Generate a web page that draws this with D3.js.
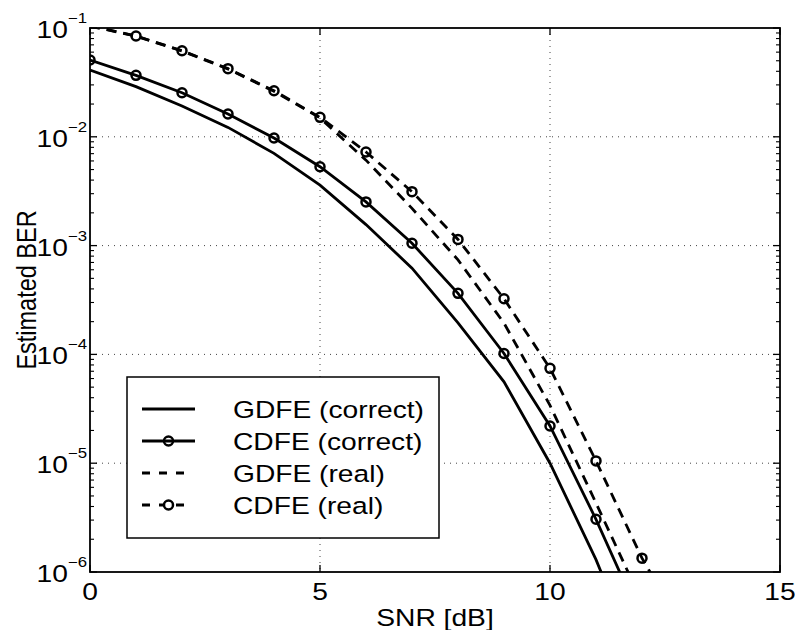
<!DOCTYPE html>
<html>
<head>
<meta charset="utf-8">
<script src="https://d3js.org/d3.v7.min.js"></script>
<style>
  body { margin: 0; background: #fff; }
  text { font-family: "Liberation Sans", Arial, sans-serif; fill: #000; }
</style>
</head>
<body>
<div id="chart"></div>
<script>
/**
BER vs SNR curves, log scale, matlab look.
*/

const width = 795;
const height = 630;

// data
var snr = [0, 1, 2, 3, 4, 5, 6, 7, 8, 9, 10, 11, 12, 13];
var gdfeCorrect = [0.0411, 0.0289, 0.0192, 0.0122, 0.00705, 0.0036, 0.00156, 0.00062, 0.000195, 5.6e-5, 1.0e-5, 1.3e-6, 1.2e-7];
var cdfeCorrect = [0.0508, 0.0367, 0.0254, 0.0162, 0.00975, 0.00531, 0.00252, 0.00105, 0.000364, 0.000102, 2.2e-5, 3.05e-6, 3.5e-7];
var gdfeReal = [0.104, 0.0842, 0.0615, 0.042, 0.0262, 0.0149, 0.0061, 0.0022, 0.00074, 0.000194, 3.4e-5, 4.3e-6, 5.3e-7];
var cdfeReal = [0.105, 0.0844, 0.0618, 0.0423, 0.0265, 0.0151, 0.00725, 0.00313, 0.00114, 0.000325, 7.45e-5, 1.05e-5, 1.34e-6, 2.5e-7];

var xTicks = [0, 5, 10, 15];
var yDecades = [-6, -5, -4, -3, -2, -1];
var legendNames = ['GDFE (correct)', 'CDFE (correct)', 'GDFE (real)', 'CDFE (real)'];

// plot box (note: "top" is taken by window.top)
var pLeft = 90, pRight = 780, pTop = 28, pBottom = 572;
var fs = 23.5;   // font size
var sx = 1.2;    // text looks stretched sideways in the original

var x = d3.scaleLinear().domain([0, 15]).range([pLeft, pRight]);
var y = d3.scaleLog().domain([1e-6, 1e-1]).range([pBottom, pTop]);

var svg = d3.select('#chart')
  .append('svg')
  .attr('width', width)
  .attr('height', height);

svg.append('defs').append('clipPath')
  .attr('id', 'plotclip')
  .append('rect')
  .attr('x', pLeft).attr('y', pTop)
  .attr('width', pRight - pLeft).attr('height', pBottom - pTop);

// white plot background
svg.append('rect')
  .attr('x', pLeft).attr('y', pTop)
  .attr('width', pRight - pLeft).attr('height', pBottom - pTop)
  .style('fill', '#fff');

//grid
var grid = svg.append('g');
xTicks.slice(1, -1).forEach(function(t) {
  grid.append('line')
    .attr('x1', x(t)).attr('x2', x(t))
    .attr('y1', pTop).attr('y2', pBottom)
    .style('stroke', '#444').style('stroke-width', 1)
    .style('stroke-dasharray', '1,5');
});
yDecades.slice(1, -1).forEach(function(d) {
  grid.append('line')
    .attr('x1', pLeft).attr('x2', pRight)
    .attr('y1', y(Math.pow(10, d))).attr('y2', y(Math.pow(10, d)))
    .style('stroke', '#444').style('stroke-width', 1)
    .style('stroke-dasharray', '1,5');
});

// the curves
var series = [
  { name: legendNames[0], values: gdfeCorrect, dash: null, marker: false },
  { name: legendNames[1], values: cdfeCorrect, dash: null, marker: true },
  { name: legendNames[2], values: gdfeReal, dash: '10,7', marker: false },
  { name: legendNames[3], values: cdfeReal, dash: '10,7', marker: true }
];

var line = d3.line()
  .x(function(d) { return x(d[0]); })
  .y(function(d) { return y(d[1]); });

var plot = svg.append('g').attr('clip-path', 'url(#plotclip)');

series.forEach(function(s) {
  var pts = s.values.map(function(v, i) { return [snr[i], v]; });
  plot.append('path')
    .datum(pts)
    .attr('d', line)
    .style('fill', 'none')
    .style('stroke', '#000')
    .style('stroke-width', 2.8)
    .style('stroke-dasharray', s.dash);
  if (s.marker) {
    // matlab drops markers outside the axes
    plot.selectAll(null)
      .data(pts.filter(function(p) { return p[1] >= 1e-6 && p[1] <= 1e-1; }))
      .enter().append('circle')
      .attr('cx', function(d) { return x(d[0]); })
      .attr('cy', function(d) { return y(d[1]); })
      .attr('r', 4.5)
      .style('fill', 'none')
      .style('stroke', '#000')
      .style('stroke-width', 2.5);
  }
});

// frame and ticks
var frame = svg.append('g');
frame.append('rect')
  .attr('x', pLeft).attr('y', pTop)
  .attr('width', pRight - pLeft).attr('height', pBottom - pTop)
  .style('fill', 'none').style('stroke', '#000').style('stroke-width', 1.8);

xTicks.forEach(function(t) {
  frame.append('line')
    .attr('x1', x(t)).attr('x2', x(t)).attr('y1', pBottom).attr('y2', pBottom - 7)
    .style('stroke', '#000').style('stroke-width', 1.3);
  frame.append('line')
    .attr('x1', x(t)).attr('x2', x(t)).attr('y1', pTop).attr('y2', pTop + 7)
    .style('stroke', '#000').style('stroke-width', 1.3);
});

var yMinor = [];
yDecades.forEach(function(d) {
  for (var k = 2; k <= 9; k++) {
    if (d < -1) yMinor.push(k * Math.pow(10, d));
  }
});
yDecades.forEach(function(d) {
  var yy = y(Math.pow(10, d));
  frame.append('line').attr('x1', pLeft).attr('x2', pLeft + 7).attr('y1', yy).attr('y2', yy)
    .style('stroke', '#000').style('stroke-width', 1.3);
  frame.append('line').attr('x1', pRight).attr('x2', pRight - 7).attr('y1', yy).attr('y2', yy)
    .style('stroke', '#000').style('stroke-width', 1.3);
});
yMinor.forEach(function(v) {
  var yy = y(v);
  frame.append('line').attr('x1', pLeft).attr('x2', pLeft + 4).attr('y1', yy).attr('y2', yy)
    .style('stroke', '#000').style('stroke-width', 1.1);
  frame.append('line').attr('x1', pRight).attr('x2', pRight - 4).attr('y1', yy).attr('y2', yy)
    .style('stroke', '#000').style('stroke-width', 1.1);
});

// put a stretched text at x,y (stretch is always sideways on screen)
function label(g, tx, ty, txt, anchor, rot) {
  var tr = 'translate(' + tx + ',' + ty + ')';
  if (rot) tr += ' rotate(' + rot + ') scale(1,' + sx + ')';
  else tr += ' scale(' + sx + ',1)';
  return g.append('text')
    .attr('transform', tr)
    .style('font-size', fs + 'px')
    .style('text-anchor', anchor)
    .text(txt);
}

//tick labels
xTicks.forEach(function(t) {
  label(svg, x(t), 600, t, 'middle');
});
yDecades.forEach(function(d) {
  var t = svg.append('text')
    .attr('transform', 'translate(87,' + (y(Math.pow(10, d)) + 10) + ') scale(' + sx + ',1)')
    .style('font-size', fs + 'px')
    .style('text-anchor', 'end');
  t.append('tspan').text('10');
  t.append('tspan').attr('dy', -15).style('font-size', '14px').text('\u2212' + Math.abs(d));
});

//axis titles
label(svg, (pLeft + pRight) / 2, 626, 'SNR [dB]', 'middle');
label(svg, 36, 290, 'Estimated BER', 'middle', -90);

//legend
var lg = svg.append('g');
lg.append('rect')
  .attr('x', 127).attr('y', 377)
  .attr('width', 312).attr('height', 161)
  .style('fill', '#fff').style('stroke', '#000').style('stroke-width', 1.5);

series.forEach(function(s, i) {
  var ry = 409 + i * 32;
  lg.append('line')
    .attr('x1', 142).attr('x2', s.dash ? 188 : 195)
    .attr('y1', ry).attr('y2', ry)
    .style('stroke', '#000').style('stroke-width', 2.8)
    .style('stroke-dasharray', s.dash ? '8,9' : null);
  if (s.marker) {
    lg.append('circle')
      .attr('cx', 168.5).attr('cy', ry).attr('r', 4.5)
      .style('fill', s.dash ? '#fff' : 'none')
      .style('stroke', '#000').style('stroke-width', 2.5);
  }
  label(lg, 233, ry + 8.5, s.name, 'start');
});
</script>
</body>
</html>
